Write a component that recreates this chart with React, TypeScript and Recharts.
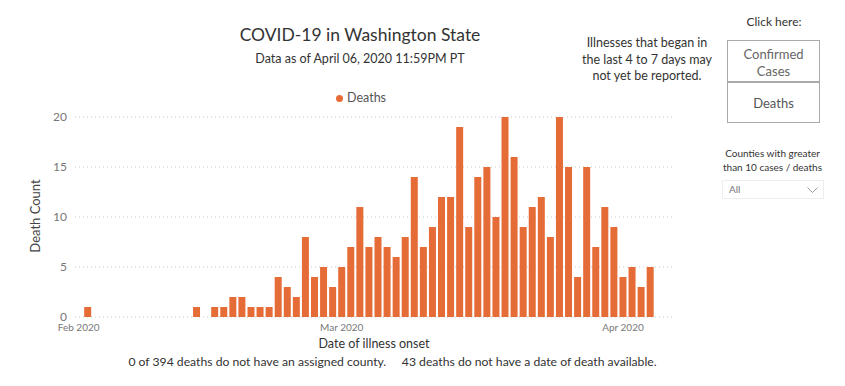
import React from 'react';
import { BarChart, Bar, XAxis, YAxis, CartesianGrid, Legend } from 'recharts';

// onset dates and death counts
const onsetDates = [
    '2020-02-02', '2020-02-14', '2020-02-16', '2020-02-17', '2020-02-18', '2020-02-19', '2020-02-20',
    '2020-02-21', '2020-02-22', '2020-02-23', '2020-02-24', '2020-02-25', '2020-02-26', '2020-02-27',
    '2020-02-28', '2020-02-29', '2020-03-01', '2020-03-02', '2020-03-03', '2020-03-04', '2020-03-05',
    '2020-03-06', '2020-03-07', '2020-03-08', '2020-03-09', '2020-03-10', '2020-03-11', '2020-03-12',
    '2020-03-13', '2020-03-14', '2020-03-15', '2020-03-16', '2020-03-17', '2020-03-18', '2020-03-19',
    '2020-03-20', '2020-03-21', '2020-03-22', '2020-03-23', '2020-03-24', '2020-03-25', '2020-03-26',
    '2020-03-27', '2020-03-28', '2020-03-29', '2020-03-30', '2020-03-31', '2020-04-01', '2020-04-02',
    '2020-04-03', '2020-04-04',
];
const deaths = [
    1, 1, 1, 1, 2, 2, 1,
    1, 1, 4, 3, 2, 8, 4,
    5, 3, 5, 7, 11, 7, 8,
    7, 6, 8, 14, 7, 9, 12,
    12, 19, 9, 14, 15, 10, 20,
    16, 9, 11, 12, 8, 20, 15,
    4, 15, 7, 11, 9, 4, 5,
    3, 5,
];
const monthTicks = ['2020-02-01', '2020-03-01', '2020-04-01'];
const monthLabels = ['Feb 2020', 'Mar 2020', 'Apr 2020'];
const yTicks = [0, 5, 10, 15, 20];

const START = Date.UTC(2020, 1, 1);
const dayOf = (iso: string) => {
    const [y, m, d] = iso.split('-').map(Number);
    return Math.round((Date.UTC(y, m - 1, d) - START) / 86400000);
};

const data = onsetDates.map((date, i) => ({ day: dayOf(date), Deaths: deaths[i] }));
const tickDays = monthTicks.map(dayOf);

const FONT = '"Segoe UI", Lato, "Open Sans", sans-serif';

const abs = (style: React.CSSProperties): React.CSSProperties => ({ position: 'absolute', ...style });

const App: React.FC = () => {
    return (
        <div style={{ position: 'absolute', left: 0, top: 0, width: 845, height: 386, background: '#fff', fontFamily: FONT }}>
            {/* top margin leaves room for the legend, which recharts adds on top */}
            <BarChart width={845} height={386} data={data} margin={{ top: 101, right: 173, bottom: 0, left: 0 }}>
                <CartesianGrid vertical={false} stroke="#c8c8c8" strokeDasharray="1 3" />
                <XAxis
                    type="number"
                    dataKey="day"
                    domain={[-0.4, 65.4]}
                    allowDataOverflow
                    ticks={tickDays}
                    tickFormatter={(v: number) => monthLabels[tickDays.indexOf(v)] ?? ''}
                    axisLine={false}
                    tickLine={false}
                    tickSize={0}
                    tickMargin={7}
                    height={69}
                    tick={{ fontSize: 10, fill: '#777' }}
                />
                <YAxis
                    domain={[0, 20]}
                    ticks={yTicks}
                    width={75}
                    axisLine={false}
                    tickLine={false}
                    tickSize={0}
                    tickMargin={8}
                    tick={{ fontSize: 12, fill: '#777' }}
                />
                <Legend
                    verticalAlign="top"
                    iconType="circle"
                    iconSize={7}
                    wrapperStyle={{ top: 90, left: 336, width: 'auto', height: 16, fontSize: 12.5, lineHeight: '16px' }}
                    formatter={(value: string) => <span style={{ color: '#555' }}>{value}</span>}
                />
                <Bar dataKey="Deaths" fill="#E66C37" barSize={7} isAnimationActive={false} />
            </BarChart>

            <div style={abs({ left: 160, top: 24, width: 400, textAlign: 'center', fontSize: 17.5, color: '#333' })}>
                COVID-19 in Washington State
            </div>
            <div style={abs({ left: 160, top: 51, width: 400, textAlign: 'center', fontSize: 12.5, color: '#333' })}>
                Data as of April 06, 2020 11:59PM PT
            </div>

            <div style={abs({ left: 567, top: 35, width: 160, textAlign: 'center', fontSize: 12.5, lineHeight: '16.5px', color: '#333' })}>
                Illnesses that began in<br />the last 4 to 7 days may<br />not yet be reported.
            </div>

            <div style={abs({ left: 724, top: 14, width: 100, textAlign: 'center', fontSize: 12, color: '#333' })}>Click here:</div>
            <div style={abs({ left: 727, top: 40, width: 93, height: 42, border: '1px solid #aaa', textAlign: 'center', fontSize: 13, lineHeight: '17px', color: '#666', paddingTop: 5, boxSizing: 'border-box' })}>
                Confirmed<br />Cases
            </div>
            <div style={abs({ left: 727, top: 82, width: 93, height: 41, border: '1px solid #aaa', textAlign: 'center', fontSize: 13, lineHeight: '41px', color: '#555', boxSizing: 'border-box' })}>
                Deaths
            </div>

            <div style={abs({ left: 710, top: 147, width: 125, textAlign: 'center', fontSize: 10, lineHeight: '13.5px', color: '#333' })}>
                Counties with greater<br />than 10 cases / deaths
            </div>
            <div style={abs({ left: 722, top: 180, width: 102, height: 19, border: '1px solid #eee', boxSizing: 'border-box', fontSize: 10, color: '#777', paddingLeft: 6, lineHeight: '17px' })}>
                All
                <svg width="11" height="7" style={{ position: 'absolute', right: 5, top: 6 }}>
                    <polyline points="0.5,0.5 5.5,5.5 10.5,0.5" fill="none" stroke="#999" strokeWidth="1" />
                </svg>
            </div>

            <div style={abs({ left: 35, top: 216, width: 100, marginLeft: -50, marginTop: -8, textAlign: 'center', fontSize: 13, lineHeight: '16px', color: '#444', transform: 'rotate(-90deg)' })}>
                Death Count
            </div>
            <div style={abs({ left: 274, top: 336, width: 200, textAlign: 'center', fontSize: 12.5, color: '#333' })}>
                Date of illness onset
            </div>
            <div style={abs({ left: 90, top: 354, width: 605, textAlign: 'center', fontSize: 12.2, color: '#333', whiteSpace: 'pre' })}>
                {'0 of 394 deaths do not have an assigned county.     43 deaths do not have a date of death available.'}
            </div>
        </div>
    );
};

export default App;
